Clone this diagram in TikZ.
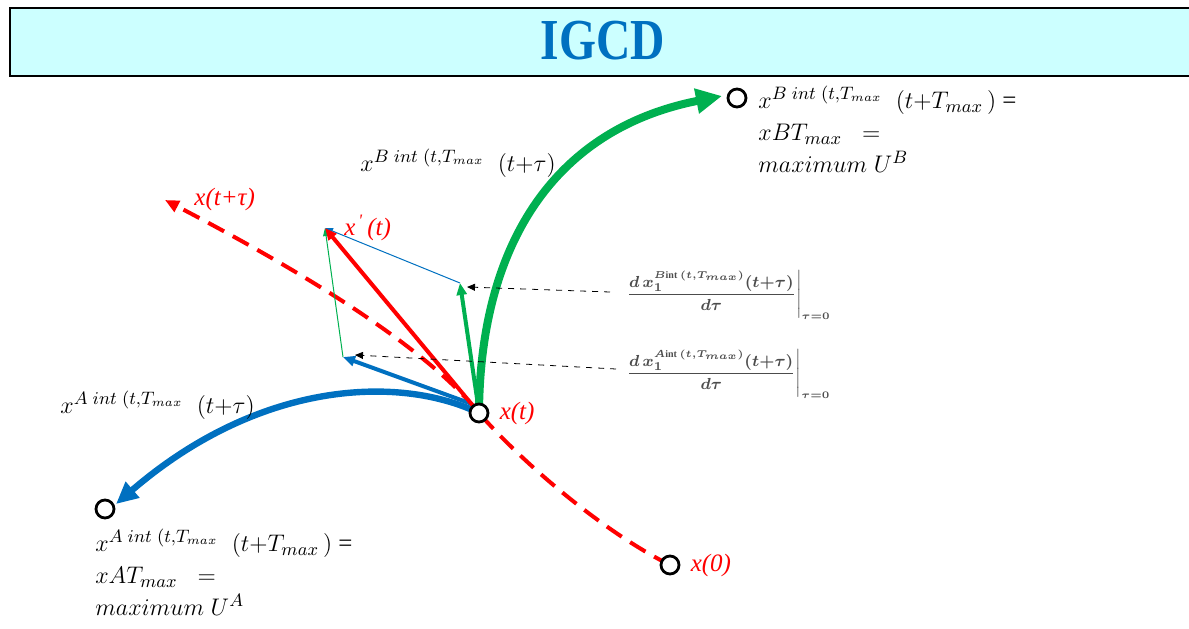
\documentclass[tikz,border=0pt]{standalone}
\usepackage{amsmath}
\usepackage{fontspec}
\setmainfont{Liberation Serif}
\usetikzlibrary{arrows.meta,positioning}
\definecolor{igblue}{RGB}{0,112,192}
\definecolor{iggreen}{RGB}{0,176,80}
\definecolor{igred}{RGB}{255,0,0}
\definecolor{igcyan}{RGB}{204,255,255}

\begin{document}
\begin{tikzpicture}[x=0.5pt,y=-0.5pt,
    pt/.style={draw,circle,line width=1.4pt,fill=white,minimum size=9pt,inner sep=0pt},
    redlbl/.style={text=igred,font=\fontsize{12.5}{14}\selectfont\itshape,inner sep=1pt},
    mathlbl/.style={font=\fontsize{12.5}{16}\selectfont,align=left,inner sep=1pt},
    fraclbl/.style={text=black!70,font=\fontsize{8}{10}\selectfont\boldmath,inner sep=1pt},
    bigtip/.style={-{Triangle[length=13pt,width=12pt]}},
    midtip/.style={-{Triangle[length=6pt,width=5pt]}},
    thintip/.style={line width=0.5pt,-{Triangle[length=4pt,width=3pt]}}]
  \useasboundingbox (0,0) rectangle (1189,628);

  % title bar
  \draw[line width=1.2pt,fill=igcyan] (10,8) rectangle (1194,76);
  \node[text=igblue,font=\fontsize{29}{30}\selectfont\bfseries,xscale=0.82] (title) at (603,41) {IGCD};

  \coordinate (xt) at (479,413);
  \coordinate (x0) at (670,565);
  \coordinate (xa) at (105,509);
  \coordinate (xb) at (737,98);
  \coordinate (va) at (343,357);
  \coordinate (vb) at (460,283);
  \coordinate (vx) at (325,228);
  \coordinate (xtau) at (165,200);
  \coordinate (ta) at (355,355);
  \coordinate (tb) at (467,287);

  % trajectory x(t)
  \draw[igred,line width=2pt,dash pattern=on 9pt off 5pt,-{Triangle[length=7pt,width=6pt]}]
    (x0) .. controls (600,530) and (520,460) .. (xt)
         .. controls (420,340) and (280,260) .. (xtau);

  % integrated paths
  \draw[iggreen,line width=4pt,bigtip] (xt) .. controls (480,250) and (550,130) .. (722,96);
  \draw[igblue,line width=3.2pt,-{Triangle[length=11pt,width=10pt]}]
    (xt) .. controls (400,375) and (260,380) .. (116,504);

  % derivative vectors
  \draw[iggreen,thintip] (va) -- (vx);
  \draw[igblue,thintip] (vb) -- (vx);
  \draw[igblue,line width=2pt,midtip] (472,404) -- (va);
  \draw[iggreen,line width=2pt,midtip] (478,405) -- (vb);
  \draw[igred,line width=2pt,midtip] (xt) -- (vx);

  % points
  \node[pt] (pxt) at (xt) {};
  \node[pt] (px0) at (x0) {};
  \node[pt] (pa) at (xa) {};
  \node[pt] (pb) at (xb) {};

  % labels
  \node[redlbl,right=4pt of pxt] (lxt) {x(t)};
  \node[redlbl,right=4pt of px0] (lx0) {x(0)};
  \node[redlbl,anchor=west] (ltau) at (192,199) {x(t+τ)};
  \node[redlbl,anchor=west] (lxd) at (342,228) {x\textsuperscript{\,\textquotesingle}\,(t)};

  \node[mathlbl,anchor=west] (lbtau) at (358,163)
    {$x^{B\;int\;(t,T_{max}}\;\;(t{+}\tau)$};
  \node[mathlbl,anchor=west] (latau) at (58,405)
    {$x^{A\;int\;(t,T_{max}}\;\;(t{+}\tau)$};
  \node[mathlbl,anchor=north west] (lb) at (756,84)
    {$x^{B\;int\;(t,T_{max}}\;\;(t{+}T_{max}\,)$ =\\
     $xBT_{max}\;\;=$\\
     $maximum\;U^B$};
  \node[mathlbl,anchor=north west] (la) at (93,527)
    {$x^{A\;int\;(t,T_{max}}\;\;(t{+}T_{max}\,)$ =\\
     $xAT_{max}\;\;=$\\
     $maximum\;U^A$};

  \node[fraclbl,anchor=west] (fracb) at (622,295)
    {$\left.\dfrac{d\,x_1^{\scriptscriptstyle B\mathrm{int}\,(t,T_{max})}(t{+}\tau)}{d\tau}\right|_{\scriptscriptstyle\tau=0}$};
  \node[fraclbl,anchor=west] (fraca) at (622,374)
    {$\left.\dfrac{d\,x_1^{\scriptscriptstyle A\mathrm{int}\,(t,T_{max})}(t{+}\tau)}{d\tau}\right|_{\scriptscriptstyle\tau=0}$};

  \draw[dashed,line width=0.4pt,-{Triangle[length=4pt,width=3.5pt]}] (fracb.west) ++(-12,-3) -- (tb);
  \draw[dashed,line width=0.4pt,-{Triangle[length=4pt,width=3.5pt]}] (fraca.west) ++(-6,-5) -- (ta);
\end{tikzpicture}
\end{document}
